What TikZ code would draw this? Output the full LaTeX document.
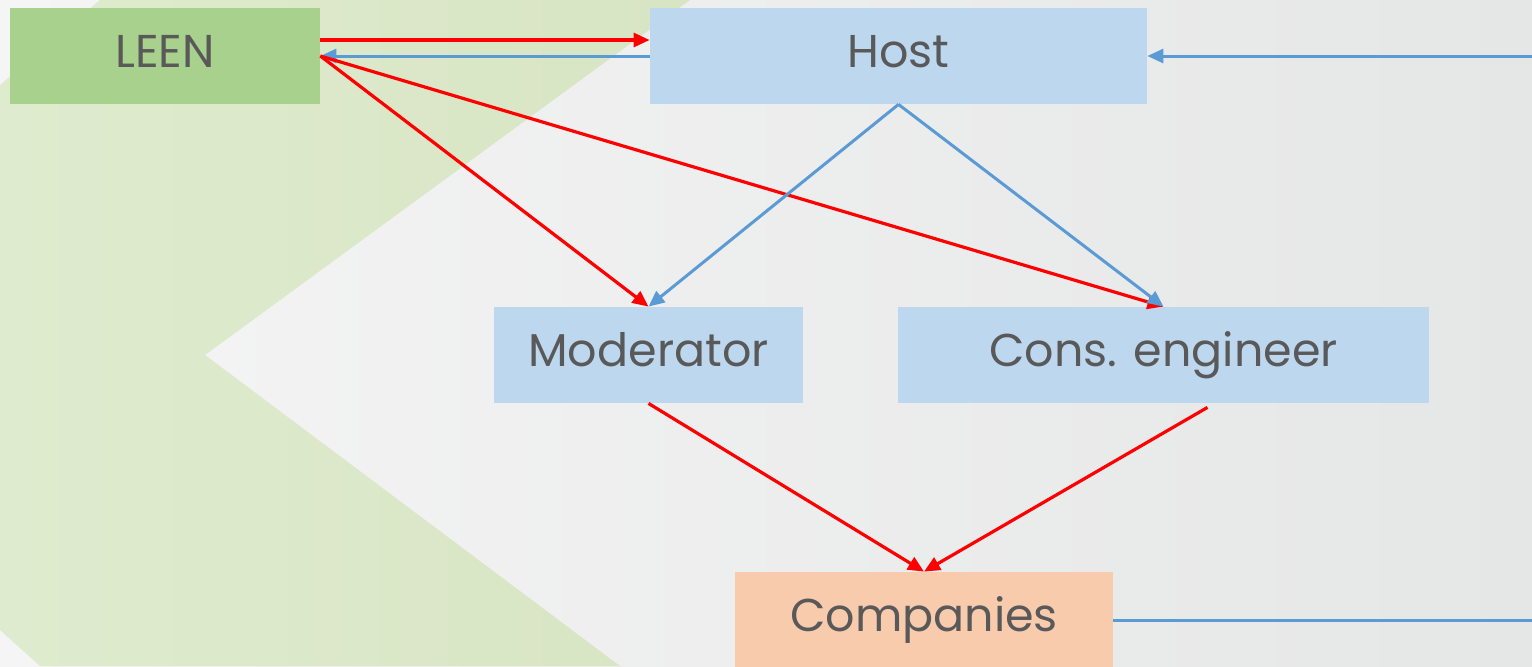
\documentclass[tikz,border=0pt]{standalone}
\usepackage{fontspec}
\setmainfont{Poppins}
\usetikzlibrary{arrows.meta}
\definecolor{leengreen}{HTML}{A9D18E}
\definecolor{boxblue}{HTML}{BDD7EE}
\definecolor{boxorange}{HTML}{F8CBAD}
\definecolor{lineblue}{HTML}{5B9BD5}
\definecolor{txtgray}{HTML}{595959}
\definecolor{bgleft}{HTML}{F5F5F5}
\definecolor{bgright}{HTML}{E5E6E6}
\definecolor{greenlight}{HTML}{DFEBCE}
\definecolor{greendark}{HTML}{D8E5C4}
\tikzset{
  box/.style={rectangle, inner sep=0pt, minimum height=48pt, text height=29.5pt, text depth=18.5pt,
    text=txtgray, font=\fontsize{23}{27}\selectfont},
  redarrow/.style={draw=red, line width=1.6pt, -{Triangle[length=8pt,width=7pt]}},
  bluearrow/.style={draw=lineblue, line width=1.5pt, -{Triangle[length=8pt,width=7pt]}},
  blueline/.style={draw=lineblue, line width=1.5pt}
}
\begin{document}
\begin{tikzpicture}[x=0.5pt,y=-0.5pt]
\useasboundingbox (0,0) rectangle (1532,666);
% background
\shade[left color=bgleft, right color=bgright] (0,0) rectangle (1532,666);
\shade[left color=greenlight, right color=greendark]
  (100,0) -- (690,0) -- (205,355) -- (620,666) -- (40,666) -- (0,630) -- (0,85) -- cycle;
% nodes
\node[box, fill=leengreen, minimum width=155pt] (leen) at (165,56) {LEEN};
\node[box, fill=boxblue, minimum width=248.5pt] (host) at (898.5,56) {Host};
\node[box, fill=boxblue, minimum width=154.5pt] (mod) at (648.5,355) {Moderator};
\node[box, fill=boxblue, minimum width=265.5pt] (cons) at (1163.5,355) {Cons. engineer};
\node[box, fill=boxorange, minimum width=189pt] (comp) at (924,620) {Companies};
\coordinate (rtop) at (1532,56);
\coordinate (rbot) at (1532,620);
% connectors
\draw[redarrow] ([yshift=8pt]leen.east) -- ([yshift=8pt]host.west);
\draw[bluearrow] (host.west) -- (leen.east);
\draw[redarrow] (leen.east) -- (mod.north);
\draw[redarrow] (leen.east) -- (cons.north);
\draw[bluearrow] (host.south) -- (mod.north);
\draw[bluearrow] (host.south) -- (cons.north);
\draw[redarrow] (mod.south) -- (comp.north);
\draw[redarrow] ([shift={(22pt,-2pt)}]cons.south) -- (comp.north);
\draw[blueline] (comp.east) -- (rbot);
\draw[bluearrow] (rtop) -- (host.east);
\end{tikzpicture}
\end{document}
